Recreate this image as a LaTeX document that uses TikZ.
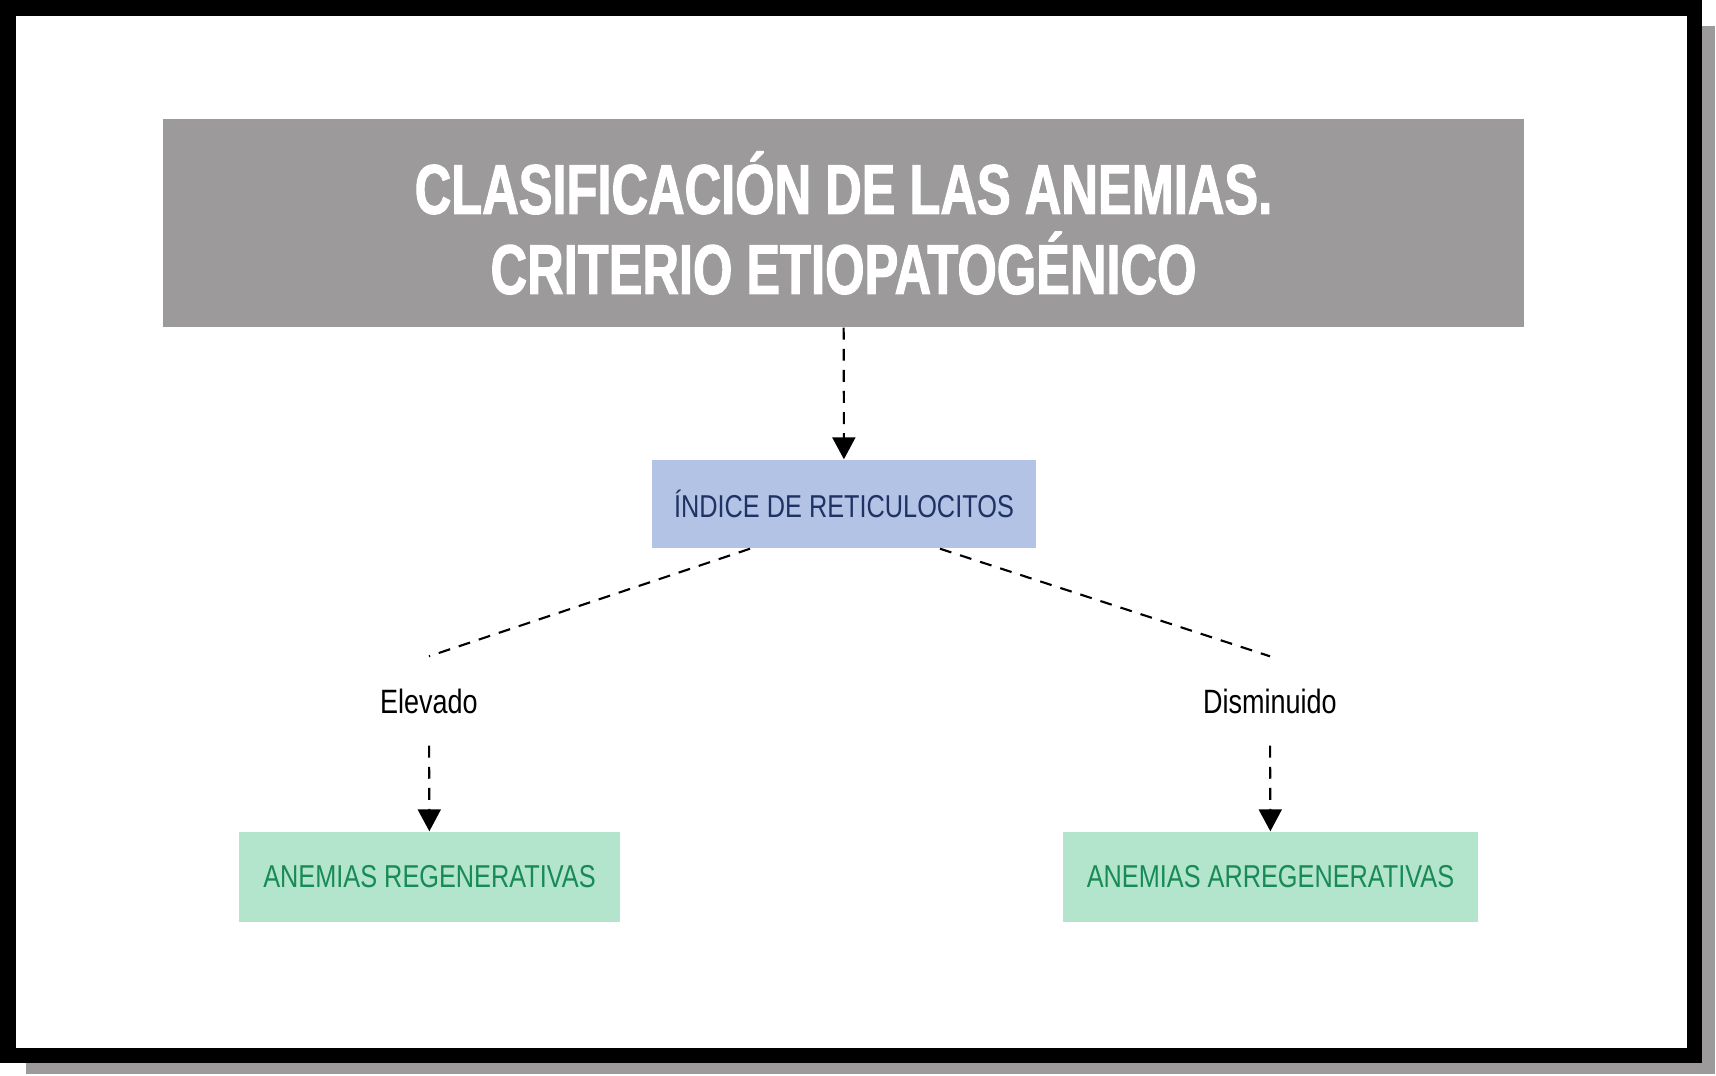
\documentclass[tikz,border=0pt]{standalone}
\usepackage{fontspec}
\setmainfont{Liberation Sans}
\newfontfamily\condfont{Liberation Sans}[FakeStretch=0.8]
\newfontfamily\titlefont{Liberation Sans}[FakeStretch=0.72,FakeBold=1.5]
\usetikzlibrary{arrows.meta,calc}
\definecolor{titlegray}{HTML}{9C9A9B}
\definecolor{idxblue}{HTML}{B3C3E6}
\definecolor{idxnavy}{HTML}{1E3264}
\definecolor{anfill}{HTML}{B3E4CC}
\definecolor{antext}{HTML}{178A55}
\begin{document}
\begin{tikzpicture}[
  font=\condfont\fontsize{9}{10.8}\selectfont,
  titlebox/.style={fill=titlegray, text=white, minimum width=13.61cm, minimum height=2.08cm, align=center,
    font=\titlefont\bfseries\fontsize{20}{22.8}\selectfont},
  idxbox/.style={fill=idxblue, text=idxnavy, minimum width=3.84cm, minimum height=0.88cm},
  anbox/.style={fill=anfill, text=antext, minimum height=0.90cm},
  lbl/.style={minimum height=0.88cm, inner sep=0pt, font=\condfont\fontsize{9.6}{11.5}\selectfont},
  link/.style={dashed, dash pattern=on 3.4pt off 2.6pt, line width=0.6pt},
  arr/.style={link, -{Triangle[length=2.2mm,width=2.3mm]}}
]
  \useasboundingbox (0,0) rectangle (17.16,-10.76);
  % frame with shadow
  \fill[titlegray] (0.26,-0.26) rectangle (17.15,-10.74);
  \fill[black] (0,0) rectangle (17.02,-10.63);
  \fill[white] (0.16,-0.16) rectangle (16.87,-10.48);

  \node[titlebox] (title) at (8.435,-2.23) {CLASIFICACIÓN DE LAS ANEMIAS.\\CRITERIO ETIOPATOGÉNICO};
  \node[idxbox] (idx) at (8.44,-5.04) {ÍNDICE DE RETICULOCITOS};

  \node[lbl] (elev) at (4.29,-7.01) {Elevado};
  \node[lbl] (dism) at (12.70,-7.01) {Disminuido};

  \node[anbox, minimum width=3.81cm] (regen) at (4.295,-8.77) {ANEMIAS REGENERATIVAS};
  \node[anbox, minimum width=4.15cm] (arregen) at (12.705,-8.77) {ANEMIAS ARREGENERATIVAS};

  \draw[arr] (title) -- (idx);
  \draw[link] ($(idx.south)+(-0.94,0)$) -- (elev.north);
  \draw[link] ($(idx.south)+(0.96,0)$) -- (dism.north);
  \draw[arr] (elev) -- (regen);
  \draw[arr] (dism) -- (arregen);
\end{tikzpicture}
\end{document}
